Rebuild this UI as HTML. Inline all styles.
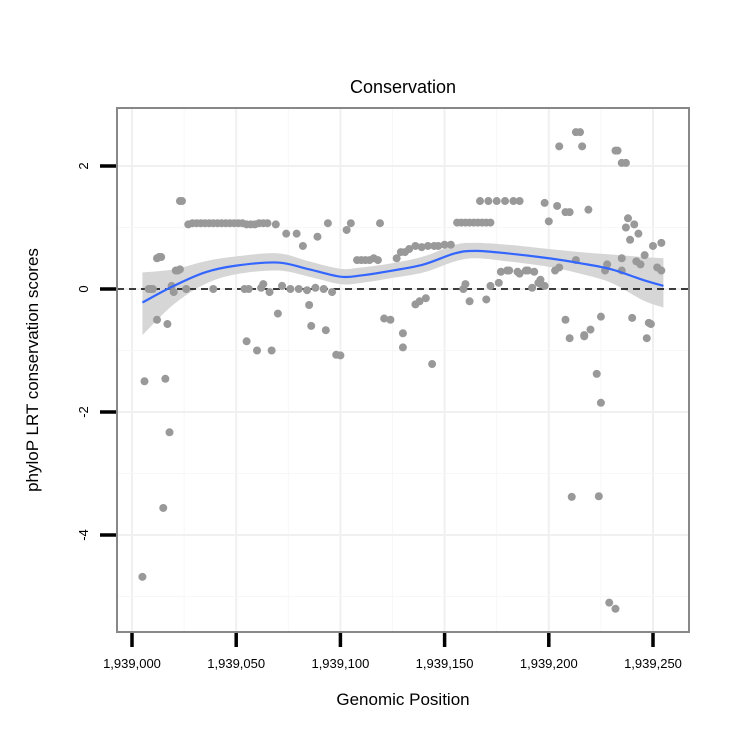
<!DOCTYPE html>
<html><head><meta charset="utf-8"><style>
body{margin:0;background:#fff;font-family:"Liberation Sans",sans-serif}
</style></head><body>
<svg id="c" width="750" height="750" xmlns="http://www.w3.org/2000/svg" font-family="Liberation Sans, sans-serif">
<text x="403" y="93" text-anchor="middle" font-size="18">Conservation</text>
<text x="403" y="705" text-anchor="middle" font-size="17">Genomic Position</text>
<text transform="translate(38,370) rotate(-90)" text-anchor="middle" font-size="17">phyloP LRT conservation scores</text>
<g id="grid"></g>
<g id="band"></g>
<g id="pts"></g>
<g id="ln"></g>
<g id="ax"></g>
</svg>
<script>
const xTicks=[0,50,100,150,200,250];
const xTickLabels=["1,939,000","1,939,050","1,939,100","1,939,150","1,939,200","1,939,250"];
const yTicks=[-4,-2,0,2];
const yTickLabels=["-4","-2","0","2"];
const ptX=[5,6,8,9,10,12,13,14,12,15,16,17,18,19,20,21,22,23,23,24,26,27,29,31,33,35,37,39,41,43,45,47,49,51,53,55,57,59,61,63,65,39,54,56,62,63,66,55,60,67,70,69,74,79,82,89,94,72,76,80,84,88,92,96,85,86,93,98,100,103,105,108,110,112,114,116,118,119,121,124,127,129,131,133,136,139,142,145,130,130,136,138,141,144,147,150,153,156,158,160,162,164,166,168,170,172,159,160,162,170,167,171,175,179,183,186,177,181,185,189,193,172,176,180,186,190,192,196,200,198,204,196,195,198,203,205,205,208,210,208,210,211,213,215,216,213,217,219,217,220,223,225,224,225,227,228,229,232,233,235,237,240,232,235,238,241,235,237,239,242,243,247,244,246,249,248,250,252,254,254];
const ptY=[-4.68,-1.5,0,0,0,0.5,0.52,0.52,-0.5,-3.56,-1.46,-0.57,-2.33,0.05,-0.05,0.3,0.3,0.32,1.43,1.43,0,1.05,1.07,1.07,1.07,1.07,1.07,1.07,1.07,1.07,1.07,1.07,1.07,1.07,1.07,1.05,1.05,1.05,1.07,1.07,1.07,0,0,0,0.02,0.08,-0.05,-0.85,-1.0,-1.0,-0.4,1.05,0.9,0.9,0.7,0.85,1.07,0.05,0,0,-0.02,0.02,0,-0.05,-0.26,-0.6,-0.67,-1.07,-1.08,0.96,1.07,0.47,0.47,0.47,0.47,0.5,0.47,1.07,-0.48,-0.5,0.5,0.6,0.6,0.65,0.7,0.68,0.7,0.7,-0.72,-0.95,-0.25,-0.2,-0.15,-1.22,0.7,0.72,0.72,1.08,1.08,1.08,1.08,1.08,1.08,1.08,1.08,1.08,0,0.08,-0.2,-0.17,1.43,1.43,1.43,1.43,1.43,1.43,0.28,0.3,0.28,0.3,0.28,0.05,0.1,0.3,0.25,0.3,0.02,0.15,1.1,1.4,1.35,0.08,0.1,0.05,0.3,0.35,2.32,1.25,1.25,-0.5,-0.8,-3.38,2.55,2.55,2.32,0.47,-0.77,1.29,-0.75,-0.66,-1.38,-1.85,-3.37,-0.45,0.3,0.4,-5.1,-5.2,2.25,2.05,2.05,-0.47,2.25,0.5,1.15,1.05,0.3,1.0,0.8,0.45,0.9,-0.8,0.4,0.55,-0.57,-0.55,0.7,0.35,0.3,0.75,0.8,0.22];
const smX=[5,20,35,50,70,85,100,110,125,140,155,165,180,200,215,230,245,255];
const smY=[-0.22,0.05,0.27,0.38,0.43,0.32,0.2,0.22,0.3,0.4,0.58,0.62,0.58,0.5,0.42,0.32,0.15,0.05];
const smHi=[0.27,0.32,0.45,0.53,0.58,0.45,0.33,0.35,0.42,0.53,0.72,0.75,0.72,0.65,0.6,0.56,0.52,0.5];
const smLo=[-0.75,-0.25,0.08,0.24,0.3,0.2,0.08,0.1,0.18,0.27,0.45,0.5,0.45,0.36,0.25,0.1,-0.18,-0.3];
const NS="http://www.w3.org/2000/svg";
const L=117,R=689,T=108,B=632;
const sx=v=>132+v*2.084, sy=v=>289-v*61.5;
function mk(p,t,a){const e=document.createElementNS(NS,t);for(const k in a)e.setAttribute(k,a[k]);document.getElementById(p).appendChild(e);return e;}
function curve(P,start){let d=start?'M'+P[0][0]+','+P[0][1]:'L'+P[0][0]+','+P[0][1];
for(let i=0;i<P.length-1;i++){const p0=P[Math.max(0,i-1)],p1=P[i],p2=P[i+1],p3=P[Math.min(P.length-1,i+2)];
d+='C'+(p1[0]+(p2[0]-p0[0])/6)+','+(p1[1]+(p2[1]-p0[1])/6)+' '+(p2[0]-(p3[0]-p1[0])/6)+','+(p2[1]-(p3[1]-p1[1])/6)+' '+p2[0]+','+p2[1];}
return d;}
for(let v=-25;v<=275;v+=25){const x=sx(v);if(x<=L||x>=R)continue;const g=mk('grid','line',{x1:x,x2:x,y1:T,y2:B,stroke:v%50?'#f7f7f7':'#f0f0f0','stroke-width':v%50?1:2});

}
for(let v=-5;v<=2;v++){const y=sy(v);const g=mk('grid','line',{x1:L,x2:R,y1:y,y2:y,stroke:v%2?'#f7f7f7':'#f0f0f0','stroke-width':v%2?1:2});

}
const hiP=smX.map((x,i)=>[sx(x),sy(smHi[i])]);
const loP=smX.map((x,i)=>[sx(x),sy(smLo[i])]).reverse();
const bd=mk('band','path',{d:curve(hiP,true)+curve(loP,false)+'Z',fill:'#d6d6d6'});


const z=mk('band','line',{x1:L,x2:R,y1:sy(0),y2:sy(0),stroke:'#000','stroke-width':1.6,'stroke-dasharray':'7,5'});


ptX.forEach((x,i)=>{const c=mk('pts','circle',{cx:sx(x),cy:sy(ptY[i]),r:4,fill:'#999'});

});
const sl=mk('ln','path',{d:curve(smX.map((x,i)=>[sx(x),sy(smY[i])]),true),fill:'none',stroke:'#3366ff','stroke-width':2.2,'stroke-linejoin':'round'});


const pb=mk('ax','rect',{x:L,y:T,width:R-L,height:B-T,fill:'none',stroke:'#888','stroke-width':2});


xTicks.forEach((v,i)=>{const x=sx(v);const t=mk('ax','line',{x1:x,x2:x,y1:633,y2:647,stroke:'#000','stroke-width':3.5});


const tx=mk('ax','text',{x:x,y:668,'text-anchor':'middle','font-size':13});tx.textContent=xTickLabels[i];

});
yTicks.forEach((v,i)=>{const y=sy(v);const t=mk('ax','line',{x1:100,x2:116,y1:y,y2:y,stroke:'#000','stroke-width':3.5});


const tx=mk('ax','text',{x:0,y:0,'text-anchor':'middle','font-size':13,transform:`translate(88,${y}) rotate(-90)`});tx.textContent=yTickLabels[i];

});
</script>
</body></html>
